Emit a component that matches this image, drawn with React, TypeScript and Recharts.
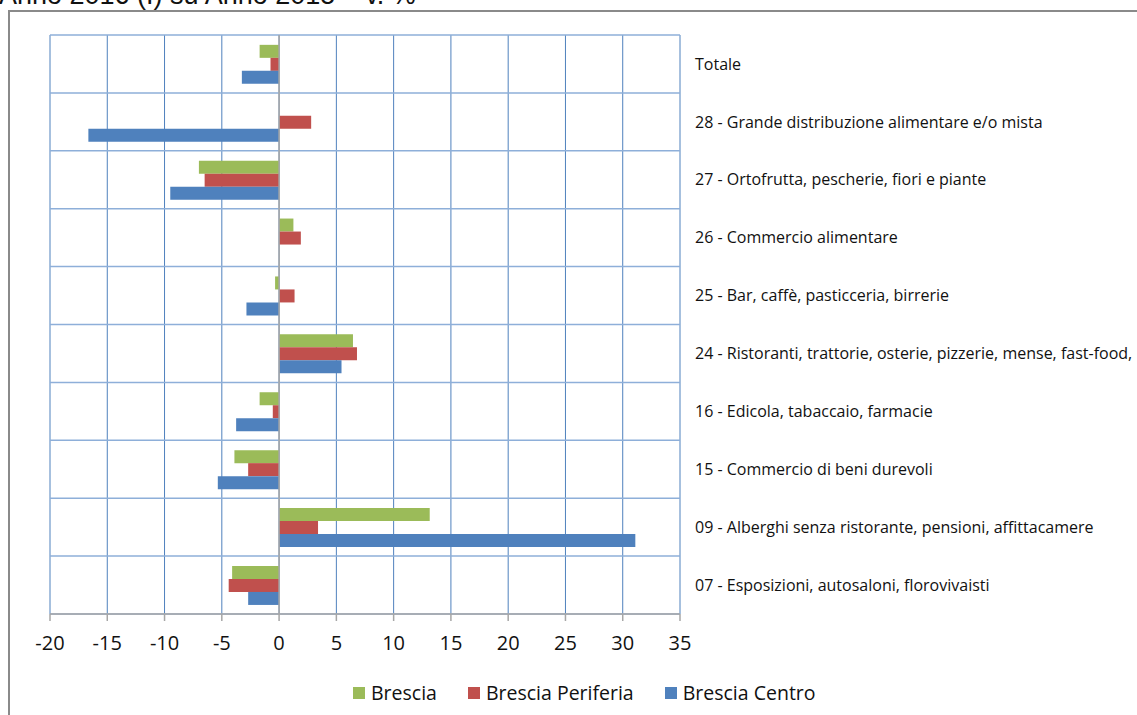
import React from 'react';
import { BarChart, Bar, XAxis, YAxis, CartesianGrid, Legend, ReferenceLine } from 'recharts';

const categories = [
  'Totale',
  '28 - Grande distribuzione alimentare e/o mista',
  '27 - Ortofrutta, pescherie, fiori e piante',
  '26 - Commercio alimentare',
  '25 - Bar, caffè, pasticceria, birrerie',
  '24 - Ristoranti, trattorie, osterie, pizzerie, mense, fast-food,',
  '16 - Edicola, tabaccaio, farmacie',
  '15 - Commercio di beni durevoli',
  '09 - Alberghi senza ristorante, pensioni, affittacamere',
  '07 - Esposizioni, autosaloni, florovivaisti',
];

const brescia = [-1.7, 0, -7.0, 1.25, -0.35, 6.45, -1.7, -3.9, 13.15, -4.1];
const periferia = [-0.75, 2.8, -6.5, 1.9, 1.35, 6.8, -0.55, -2.7, 3.4, -4.4];
const centro = [-3.25, -16.65, -9.5, 0, -2.85, 5.45, -3.75, -5.35, 31.1, -2.7];

const xTicks = [-20, -15, -10, -5, 0, 5, 10, 15, 20, 25, 30, 35];

const series = [
  { key: 'brescia', name: 'Brescia', color: '#9bbb59' },
  { key: 'periferia', name: 'Brescia Periferia', color: '#c0504d' },
  { key: 'centro', name: 'Brescia Centro', color: '#4f81bd' },
];

const data = categories.map((name, i) => ({
  name,
  brescia: brescia[i],
  periferia: periferia[i],
  centro: centro[i],
}));

const font = '"Open Sans", "Liberation Sans", sans-serif';

// keep legend in series order (recharts sorts by name otherwise)
const renderLegend = (props: any) => {
  const items = props.payload || [];
  const ordered = series
    .map((s) => items.find((it: any) => it.dataKey === s.key))
    .filter(Boolean);
  return (
    <div style={{ display: 'flex', alignItems: 'center', fontFamily: font, fontSize: 19.5, color: '#111' }}>
      {ordered.map((it: any, idx: number) => (
        <div key={idx} style={{ display: 'flex', alignItems: 'center', marginRight: 31 }}>
          <span style={{ width: 12, height: 12, background: it.color, display: 'inline-block', marginRight: 6 }} />
          <span style={{ whiteSpace: 'nowrap' }}>{it.value}</span>
        </div>
      ))}
    </div>
  );
};

const App: React.FC = () => {
  return (
    <div style={{ position: 'absolute', left: 0, top: 0, width: 1137, height: 715, overflow: 'hidden', background: '#fff' }}>
      <div
        style={{
          position: 'absolute', left: -1, top: -18, fontFamily: '"Liberation Sans", Arial, sans-serif',
          fontSize: 27, lineHeight: '27px', color: '#111', whiteSpace: 'nowrap',
        }}
      >
        Anno 2016 (I) su Anno 2015 – v. %
      </div>
      <div
        style={{
          position: 'absolute', left: 8, top: 10, width: 1200, height: 800,
          borderLeft: '2px solid #8a8a8a', borderTop: '2px solid #8a8a8a',
        }}
      />
      <div style={{ position: 'absolute', left: 0, top: 0 }}>
        <BarChart
          width={1137}
          height={715}
          data={data}
          layout="vertical"
          margin={{ top: 35, right: 0, bottom: 61, left: 50 }}
          barCategoryGap="17%"
          barGap={0}
        >
          <CartesianGrid vertical={true} horizontal={false} stroke="#4f81bd" strokeWidth={1} />
          <CartesianGrid
            vertical={false}
            horizontal={true}
            stroke="#8eafd9"
            strokeWidth={1.5}
            horizontalCoordinatesGenerator={({ offset }: any) => {
              const n = categories.length;
              const out: number[] = [];
              for (let i = 0; i <= n; i++) out.push(offset.top + (i * offset.height) / n);
              return out;
            }}
          />
          <XAxis
            type="number"
            domain={[-20, 35]}
            ticks={xTicks}
            interval={0}
            height={40}
            axisLine={{ stroke: '#a6a6a6', strokeWidth: 1.5 }}
            tickLine={{ stroke: '#a6a6a6', strokeWidth: 1.5 }}
            tickSize={7}
            tickMargin={15}
            tick={{ fill: '#111', fontSize: 20, fontFamily: font }}
          />
          <YAxis
            type="category"
            dataKey="name"
            orientation="right"
            width={457}
            interval={0}
            axisLine={false}
            tickLine={false}
            tickSize={0}
            tickMargin={15}
            tick={{ fill: '#111', fontSize: 16, fontFamily: font, textAnchor: 'start' }}
          />
          <ReferenceLine x={0} stroke="#a6a6a6" strokeWidth={1.5} />
          {series.map((s) => (
            <Bar key={s.key} dataKey={s.key} name={s.name} fill={s.color} isAnimationActive={false} />
          ))}
          <Legend
            content={renderLegend}
            wrapperStyle={{ position: 'absolute', top: 679, left: 353, width: 720, height: 0 }}
          />
        </BarChart>
      </div>
    </div>
  );
};

export default App;
